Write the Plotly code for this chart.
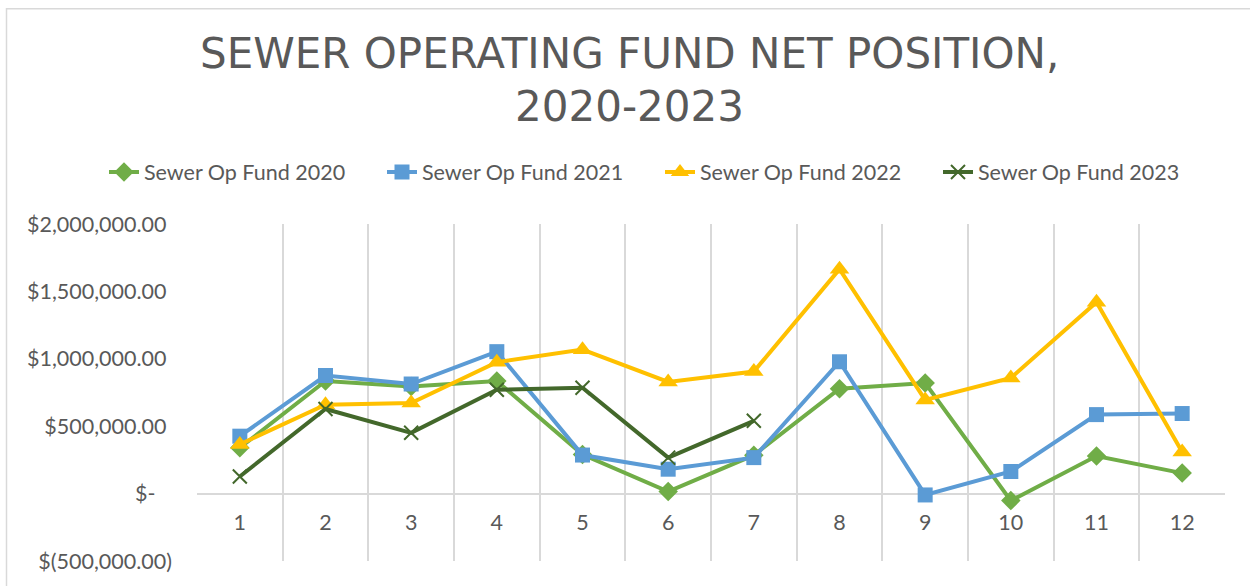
import plotly.graph_objects as go

months = list(range(1, 13))
fund_2020 = [340000, 835000, 795000, 835000, 290000, 15000, 285000, 778000, 820000, -52000, 279000, 152000]
fund_2021 = [426000, 876000, 813000, 1053000, 286000, 181000, 267000, 978000, -10000, 164000, 586000, 594000]
fund_2022 = [365000, 660000, 672000, 975000, 1068000, 828000, 905000, 1665000, 695000, 858000, 1420000, 308000]
fund_2023 = [127000, 628000, 451000, 771000, 785000, 267000, 540000]

series_names = ["Sewer Op Fund 2020", "Sewer Op Fund 2021", "Sewer Op Fund 2022", "Sewer Op Fund 2023"]
title_lines = ["SEWER OPERATING FUND NET POSITION,", "2020-2023"]
y_tickvals = [-500000, 0, 500000, 1000000, 1500000, 2000000]
y_ticktext = ["$(500,000.00)", "$-\u00a0\u00a0\u00a0", "$500,000.00\u00a0", "$1,000,000.00\u00a0",
              "$1,500,000.00\u00a0", "$2,000,000.00\u00a0"]

TXT = "#595959"
GRID = "#D9D9D9"
FONT = "Lato"
FS = 21.5
W, H = 1250, 586

fig = go.Figure()
styles = [
    (fund_2020, "#70AD47", dict(symbol="diamond", size=15, color="#70AD47")),
    (fund_2021, "#5B9BD5", dict(symbol="square", size=15, color="#5B9BD5")),
    (fund_2022, "#FFC000", dict(symbol="triangle-up", size=17, color="#FFC000")),
    (fund_2023, "#43682B", dict(symbol="x-thin-open", size=14, color="#43682B",
                                line=dict(width=2, color="#43682B"))),
]
legend_ids = ["legend", "legend2", "legend3", "legend4"]
for name, (vals, col, mk), lg in zip(series_names, styles, legend_ids):
    fig.add_trace(go.Scatter(
        x=months[:len(vals)], y=vals, name=name, mode="lines+markers",
        line=dict(color=col, width=4), marker=mk, legend=lg,
    ))

legend_x_px = [104, 382, 660, 938]
legend_layout = {}
for lg, xp in zip(legend_ids, legend_x_px):
    legend_layout[lg] = dict(
        orientation="h", xref="container", x=xp / W, xanchor="left",
        yref="container", y=1 - 172 / H, yanchor="middle",
        font=dict(family=FONT, size=FS, color=TXT), bgcolor="rgba(0,0,0,0)",
    )

fig.update_layout(
    width=W, height=H,
    margin=dict(l=197, r=25, t=224, b=23),
    paper_bgcolor="white", plot_bgcolor="white",
    font=dict(family=FONT, color=TXT, size=FS),
    xaxis=dict(
        range=[0.5, 12.5], tickvals=months, ticktext=[str(m) for m in months],
        showgrid=False, zeroline=False, showline=False, ticks="",
        anchor="free", position=0.2, ticklabelstandoff=14,
        tickfont=dict(family=FONT, size=FS, color=TXT),
        minor=dict(tick0=0.5, dtick=1, showgrid=True, gridcolor=GRID, gridwidth=1.5),
    ),
    yaxis=dict(
        range=[-500000, 2000000], tickvals=y_tickvals, ticktext=y_ticktext,
        showgrid=False, zeroline=True, zerolinecolor=GRID, zerolinewidth=1.5,
        showline=False, ticks="", ticklabelstandoff=24,
        tickfont=dict(family=FONT, size=FS, color=TXT),
    ),
    showlegend=True,
    **legend_layout,
)

for line, ypx in zip(title_lines, [52.5, 106]):
    fig.add_annotation(
        text=line, xref="paper", yref="paper",
        x=(629 - 197) / 1028, y=(563 - ypx) / 339, xanchor="center", yanchor="middle",
        showarrow=False, font=dict(family="DejaVu Sans", size=42, color=TXT),
    )

fig.add_shape(type="rect", xref="paper", yref="paper",
              x0=(6.5 - 197) / 1028, x1=1.2, y0=-0.3, y1=(563 - 7.5) / 339,
              line=dict(color=GRID, width=1.5), fillcolor="rgba(0,0,0,0)", layer="below")

fig.write_html("out.html", config={"displayModeBar": False},
               post_script="document.body.style.margin='0';document.body.style.overflow='hidden';")
